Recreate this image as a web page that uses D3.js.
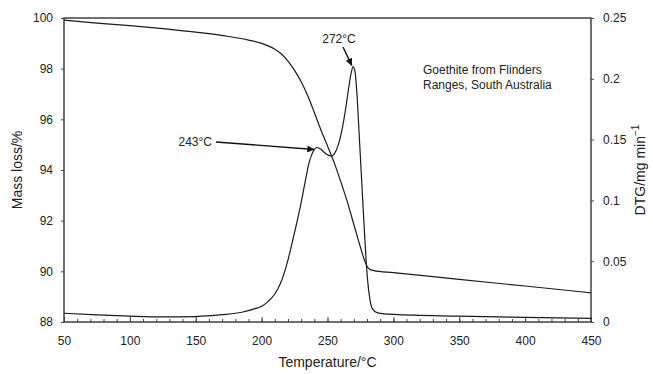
<!DOCTYPE html>
<html>
<head>
<meta charset="utf-8">
<script src="https://cdn.jsdelivr.net/npm/d3@7"></script>
<style>
  body { margin: 0; background: #fff; }
  text { font-family: "Liberation Sans", Arial, sans-serif; fill: #222; }
</style>
</head>
<body>
<div id="chart"></div>
<script>
// TG curve: temperature (°C) vs mass (%)
var tgTemp = [50, 75, 100, 125, 150, 175, 190, 200, 205, 210, 215, 220, 225, 230, 235, 240, 245, 250, 255, 260, 265, 270, 275, 278, 280, 282, 285, 300, 350, 400, 450];
var tgMass = [99.92, 99.8, 99.7, 99.58, 99.44, 99.27, 99.13, 99.0, 98.9, 98.77, 98.58, 98.3, 97.93, 97.48, 96.93, 96.27, 95.58, 94.95, 94.3, 93.55, 92.75, 91.85, 90.95, 90.45, 90.2, 90.08, 90.03, 89.95, 89.68, 89.42, 89.15];

// DTG curve: temperature (°C) vs mg/min
var dtgTemp = [50, 75, 100, 125, 150, 170, 185, 195, 200, 205, 210, 214, 219, 224, 229, 233, 236, 239, 242, 245, 248, 251, 253, 255, 258, 261, 264, 266, 268, 269.5, 271, 272.5, 274, 276, 278, 280, 282, 284, 288, 300, 350, 400, 450];
var dtgVal = [0.0072, 0.0058, 0.0048, 0.0042, 0.0045, 0.006, 0.008, 0.011, 0.013, 0.017, 0.023, 0.031, 0.047, 0.069, 0.093, 0.115, 0.131, 0.140, 0.1435, 0.142, 0.139, 0.137, 0.1365, 0.138, 0.145, 0.158, 0.177, 0.192, 0.205, 0.21, 0.205, 0.185, 0.155, 0.115, 0.075, 0.04, 0.02, 0.011, 0.0075, 0.0062, 0.0048, 0.0038, 0.003];

var xTicks = [50, 100, 150, 200, 250, 300, 350, 400, 450];
var yLeftTicks = [88, 90, 92, 94, 96, 98, 100];
var yRightTicks = [0, 0.05, 0.1, 0.15, 0.2, 0.25];

var svgWidth = 653, svgHeight = 374;
var margin = { top: 18, right: 62, bottom: 52, left: 64 };
var width = svgWidth - margin.left - margin.right;
var height = svgHeight - margin.top - margin.bottom;

var svg = d3.select("#chart").append("svg").attr("width", svgWidth).attr("height", svgHeight);
var chartGroup = svg.append("g").attr("transform", `translate(${margin.left}, ${margin.top})`);

var x = d3.scaleLinear().domain([50, 450]).range([0, width]);
var yL = d3.scaleLinear().domain([88, 100]).range([height, 0]);
var yR = d3.scaleLinear().domain([0, 0.25]).range([height, 0]);

// frame
chartGroup.append("rect").attr("width", width).attr("height", height)
  .attr("fill", "none").attr("stroke", "#222").attr("stroke-width", 1.3);

// axes
var bottomAxis = d3.axisBottom(x).tickValues(xTicks).tickSize(-5).tickPadding(14).tickFormat(d3.format("d"));
var minorAxis = d3.axisBottom(x).tickValues(d3.range(60, 450, 10)).tickSize(-3).tickFormat("");
var leftAxis = d3.axisLeft(yL).tickValues(yLeftTicks).tickSize(3).tickPadding(8).tickFormat(d3.format("d"));
var rightAxis = d3.axisRight(yR).tickValues(yRightTicks).tickSize(3).tickPadding(9).tickFormat(d => d === 0 ? "0" : d3.format("")(d));

function styleAxis(g) {
  g.select(".domain").remove();
  g.selectAll("line").attr("stroke", "#444");
  g.selectAll("text").style("font-size", "12px").attr("fill", "#222");
}
chartGroup.append("g").attr("transform", `translate(0, ${height})`).call(minorAxis).call(styleAxis);
chartGroup.append("g").attr("transform", `translate(0, ${height})`).call(bottomAxis).call(styleAxis);
chartGroup.append("g").call(leftAxis).call(styleAxis);
chartGroup.append("g").attr("transform", `translate(${width}, 0)`).call(rightAxis).call(styleAxis);

// curves
var tgData = tgTemp.map((t, i) => ({ t: t, v: tgMass[i] }));
var dtgData = dtgTemp.map((t, i) => ({ t: t, v: dtgVal[i] }));

chartGroup.append("path").datum(tgData)
  .attr("fill", "none").attr("stroke", "#1a1a1a").attr("stroke-width", 1.2)
  .attr("d", d3.line().x(d => x(d.t)).y(d => yL(d.v)).curve(d3.curveMonotoneX));
chartGroup.append("path").datum(dtgData)
  .attr("fill", "none").attr("stroke", "#1a1a1a").attr("stroke-width", 1.2)
  .attr("d", d3.line().x(d => x(d.t)).y(d => yR(d.v)).curve(d3.curveMonotoneX));

// arrowheads
svg.append("defs").append("marker").attr("id", "arrow")
  .attr("viewBox", "0 0 10 10").attr("refX", 10).attr("refY", 5)
  .attr("markerWidth", 9).attr("markerHeight", 7).attr("markerUnits", "userSpaceOnUse")
  .attr("orient", "auto")
  .append("path").attr("d", "M0,0 L10,5 L0,10 z").attr("fill", "#111");

// 243°C annotation
chartGroup.append("text").attr("x", 148).attr("y", 128).attr("text-anchor", "end")
  .style("font-size", "12px").text("243°C");
chartGroup.append("line").attr("x1", 152).attr("y1", 124)
  .attr("x2", x(240)).attr("y2", yR(0.1435) + 2)
  .attr("stroke", "#111").attr("stroke-width", 1.4).attr("marker-end", "url(#arrow)");

// 272°C annotation
chartGroup.append("text").attr("x", 275).attr("y", 25).attr("text-anchor", "middle")
  .style("font-size", "12px").text("272°C");
chartGroup.append("line").attr("x1", 279).attr("y1", 29)
  .attr("x2", x(268.5)).attr("y2", yR(0.21) - 1)
  .attr("stroke", "#111").attr("stroke-width", 1.4).attr("marker-end", "url(#arrow)");

// sample label
var note = chartGroup.append("text").style("font-size", "12px");
note.append("tspan").attr("x", 359).attr("y", 56).text("Goethite from Flinders");
note.append("tspan").attr("x", 359).attr("y", 71).text("Ranges, South Australia");

// axis titles
svg.append("text").attr("x", margin.left + width / 2).attr("y", 367)
  .attr("text-anchor", "middle").style("font-size", "14px").text("Temperature/°C");
svg.append("text").attr("transform", `translate(22, ${margin.top + height / 2}) rotate(-90)`)
  .attr("text-anchor", "middle").style("font-size", "14px").text("Mass loss/%");
var dtgTitle = svg.append("text").attr("transform", `translate(645, ${margin.top + height / 2}) rotate(-90)`)
  .attr("text-anchor", "middle").style("font-size", "14px");
dtgTitle.append("tspan").text("DTG/mg min");
dtgTitle.append("tspan").attr("dy", -6).style("font-size", "10px").text("−1");
</script>
</body>
</html>
